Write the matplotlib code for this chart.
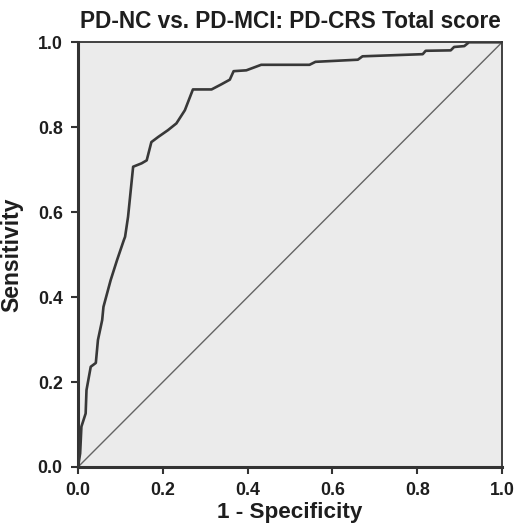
import matplotlib
matplotlib.use("Agg")
import matplotlib.pyplot as plt

# ROC curve values
fpr = [0.0, 0.005, 0.008, 0.018, 0.020, 0.030, 0.042, 0.047, 0.057, 0.060,
       0.077, 0.092, 0.108, 0.111, 0.118, 0.130, 0.150, 0.162, 0.173, 0.189,
       0.212, 0.232, 0.252, 0.271, 0.315, 0.338, 0.358, 0.367, 0.397, 0.432,
       0.546, 0.560, 0.660, 0.671, 0.813, 0.820, 0.879, 0.887, 0.911, 0.922, 1.0]
tpr = [0.0, 0.032, 0.095, 0.126, 0.181, 0.236, 0.245, 0.299, 0.346, 0.377,
       0.440, 0.487, 0.534, 0.542, 0.589, 0.707, 0.715, 0.722, 0.765, 0.777,
       0.793, 0.809, 0.840, 0.889, 0.889, 0.901, 0.912, 0.932, 0.934, 0.947,
       0.947, 0.954, 0.959, 0.967, 0.972, 0.980, 0.981, 0.989, 0.991, 1.0, 1.0]
ref_line = [0.0, 1.0]
ticks = [0.0, 0.2, 0.4, 0.6, 0.8, 1.0]
tick_labels = ["0.0", "0.2", "0.4", "0.6", "0.8", "1.0"]

plt.rcParams['font.family'] = ['Liberation Sans', 'DejaVu Sans']

fig = plt.figure(figsize=(5.17, 5.26), dpi=100)
ax = fig.add_axes([0.1509, 0.1122, 0.8201, 0.8074])
ax.set_facecolor('#ebebeb')

ax.plot(ref_line, ref_line, color='#646464', lw=1.0, zorder=2)
ax.plot(fpr, tpr, color='#383838', lw=1.9, zorder=3)

ax.set_xlim(0, 1)
ax.set_ylim(0, 1)
ax.set_xticks(ticks)
ax.set_yticks(ticks)
ax.set_xticklabels(tick_labels, fontsize=12.8, fontweight='bold', color='#1e1e1e')
ax.set_yticklabels(tick_labels, fontsize=12.8, fontweight='bold', color='#1e1e1e')
ax.tick_params(direction='out', length=5, width=1.5, color='#333333', pad=6)

for side in ['left', 'bottom']:
    ax.spines[side].set_linewidth(2.2)
    ax.spines[side].set_color('#333333')
for side in ['top', 'right']:
    ax.spines[side].set_linewidth(1.3)
    ax.spines[side].set_color('#333333')

ax.set_xlabel("1 - Specificity", fontsize=16.2, fontweight='bold', color='#1e1e1e')
ax.set_ylabel("Sensitivity", fontsize=16.5, fontweight='bold', color='#1e1e1e')
ax.xaxis.set_label_coords(0.5, -0.083)
ax.yaxis.set_label_coords(-0.128, 0.5)
ax.set_title("PD-NC vs. PD-MCI: PD-CRS Total score", fontsize=16.3,
             fontweight='bold', color='#1e1e1e', pad=10)

fig.savefig("out.png", dpi=100)
